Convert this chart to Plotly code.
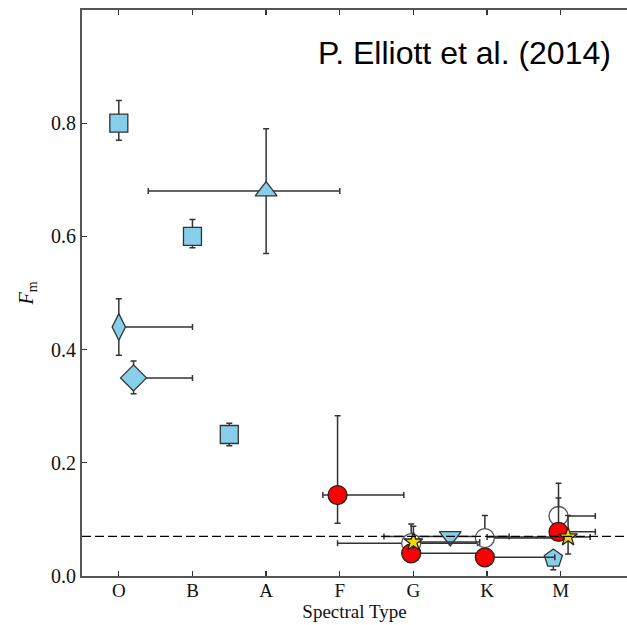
import plotly.graph_objects as go

# ---- data ----
spectral_types = ["O", "B", "A", "F", "G", "K", "M"]
tick_pos = [0, 1, 2, 3, 4, 5, 6]
threshold = 0.07

sq_x = [0, 1, 1.5]
sq_y = [0.80, 0.60, 0.25]
sq_yp = [0.04, 0.03, 0.02]
sq_ym = [0.03, 0.02, 0.02]

tri_x = [2.0]
tri_y = [0.68]
tri_xm = [1.6]
tri_xp = [1.0]
tri_yp = [0.11]
tri_ym = [0.11]

dt_x = [0.0]
dt_y = [0.44]
dt_xp = [1.0]
dt_yp = [0.05]
dt_ym = [0.05]

dm_x = [0.2]
dm_y = [0.35]
dm_xp = [0.8]
dm_yp = [0.03]
dm_ym = [0.028]

td_x = [4.5]
td_y = [0.07]
td_xm = [0.9]
td_xp = [0.8]

pent_x = [5.9]
pent_y = [0.031]
pent_yp = [0.005]
pent_ym = [0.02]

wc_x = [3.97, 4.97, 5.97]
wc_y = [0.058, 0.067, 0.106]
wc_xm = [1.0, 0.0, 0.0]
wc_xp = [0.9, 1.0, 0.5]
wc_yp = [0.034, 0.04, 0.058]
wc_ym = [0.018, 0.004, 0.01]

rc_x = [2.97, 3.97, 4.97, 5.97]
rc_y = [0.143, 0.040, 0.033, 0.078]
rc_xm = [0.2, 0.0, 0.0, 0.0]
rc_xp = [0.9, 1.0, 0.95, 0.5]
rc_yp = [0.14, 0.005, 0.005, 0.06]
rc_ym = [0.05, 0.005, 0.005, 0.01]

st_x = [4.0, 6.1]
st_y = [0.060, 0.069]
st_xm = [0.0, 1.1]
st_xp = [0.9, 0.3]
st_yp = [0.028, 0.038]
st_ym = [0.01, 0.03]

# ---- styles ----
EC = "#333333"
BLUE = "#87CEEB"


def err(plus, minus):
    return dict(type="data", symmetric=False, array=plus, arrayminus=minus,
                color=EC, thickness=1.5, width=3)


fig = go.Figure()

fig.add_hline(y=threshold, line=dict(color="black", width=1.4, dash="9px,4px"))


def add(x, y, symbol, size, fill, edge, ex=None, ey=None):
    tr = dict(x=x, y=y, mode="markers",
              marker=dict(symbol=symbol, size=size, color=fill,
                          line=dict(color=edge, width=1.3)),
              showlegend=False, hoverinfo="skip")
    if ex is not None:
        tr["error_x"] = ex
    if ey is not None:
        tr["error_y"] = ey
    fig.add_trace(go.Scatter(**tr))


z = lambda n: [0.0] * n

add(sq_x, sq_y, "square", 18, BLUE, EC, None, err(sq_yp, sq_ym))
add(tri_x, tri_y, "triangle-up", 19, BLUE, EC, err(tri_xp, tri_xm), err(tri_yp, tri_ym))
add(dt_x, dt_y, "diamond-tall", 19, BLUE, EC, err(dt_xp, z(1)), err(dt_yp, dt_ym))
add(dm_x, dm_y, "diamond", 20, BLUE, EC, err(dm_xp, z(1)), err(dm_yp, dm_ym))
add(td_x, td_y, "triangle-down", 19, BLUE, EC, err(td_xp, td_xm), None)
add(pent_x, pent_y, "pentagon", 19, BLUE, EC, None, err(pent_yp, pent_ym))
add(wc_x, wc_y, "circle", 19, "white", "#555555", err(wc_xp, wc_xm), err(wc_yp, wc_ym))
add(rc_x, rc_y, "circle", 19, "#FF0000", "#222222", err(rc_xp, rc_xm), err(rc_yp, rc_ym))
add(st_x, st_y, "star", 14, "#FFD700", "#222222", err(st_xp, st_xm), err(st_yp, st_ym))

SERIF = "Liberation Serif, Times New Roman, serif"

fig.update_layout(
    width=627, height=625,
    margin=dict(l=82, r=0, t=10, b=49, autoexpand=False),
    paper_bgcolor="white", plot_bgcolor="white",
    font=dict(family=SERIF, size=20, color="#111111"),
    xaxis=dict(range=[-0.5, 6.9], tickmode="array", tickvals=tick_pos,
               ticktext=spectral_types, showgrid=False, zeroline=False,
               showline=True, linecolor="#555555", linewidth=2, mirror="ticks",
               ticks="inside", ticklen=5, tickcolor="#333333", tickwidth=1.3,
               automargin=False, tickfont=dict(size=19), ticklabelstandoff=-4,
               title=dict(text="Spectral Type", standoff=2,
                          font=dict(family=SERIF, size=19))),
    yaxis=dict(range=[0, 1.0], tickmode="array", tickvals=[0, 0.2, 0.4, 0.6, 0.8],
               ticktext=["0.0", "0.2", "0.4", "0.6", "0.8"], showgrid=False,
               zeroline=False, showline=True, linecolor="#555555", linewidth=2,
               ticks="inside", ticklen=5, tickcolor="#333333", tickwidth=1.3,
               automargin=False, tickfont=dict(size=20),
               title=dict(text="<i>F</i><sub>m</sub>", standoff=12,
                          font=dict(family=SERIF, size=20))),
    annotations=[dict(text="P. Elliott et al. (2014)", xref="paper", yref="paper",
                      x=0.974, y=0.924, xanchor="right", yanchor="middle",
                      showarrow=False,
                      font=dict(family="Liberation Sans, Arial, sans-serif",
                                size=32, color="black"))],
)

fig.write_html(
    "out.html",
    config={"displayModeBar": False, "staticPlot": True},
    post_script="document.body.style.margin='0';document.body.style.overflow='hidden';",
)
